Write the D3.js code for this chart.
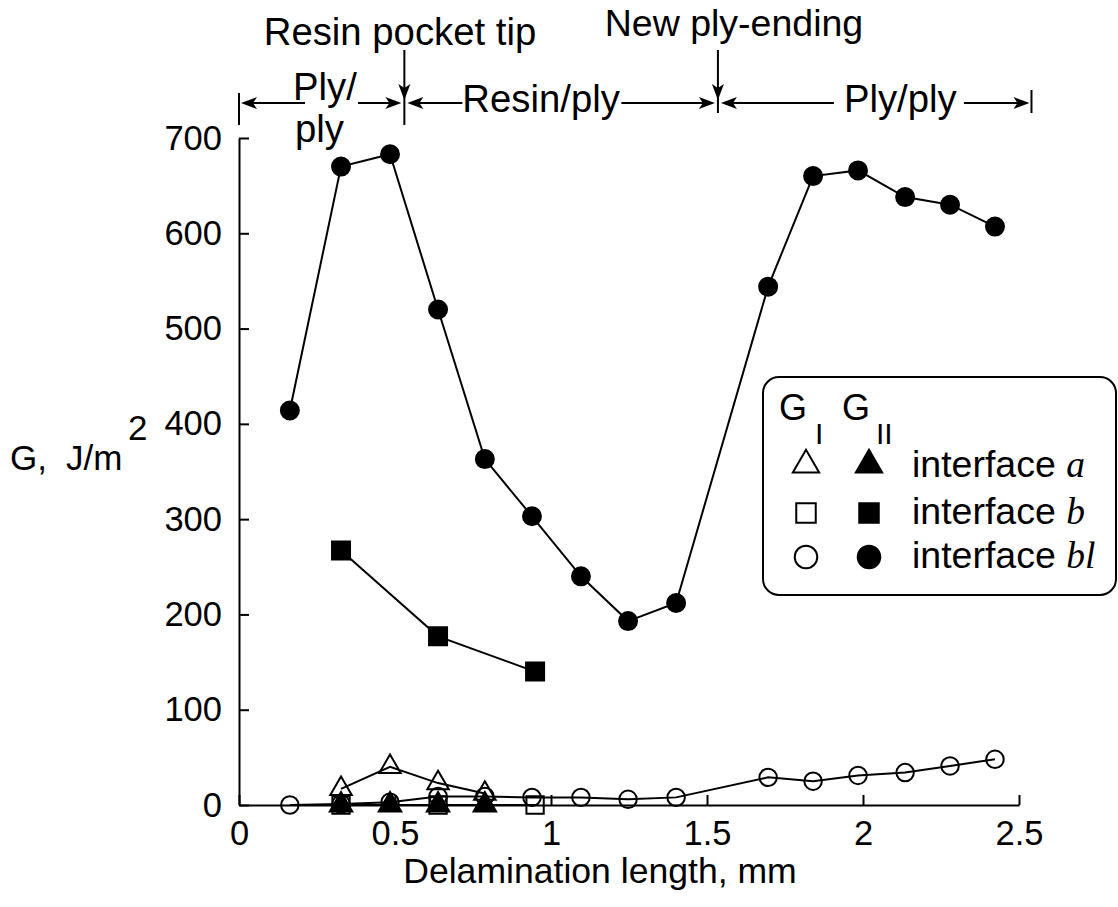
<!DOCTYPE html>
<html><head><meta charset="utf-8">
<script src="https://cdn.jsdelivr.net/npm/d3@7"></script>
<style>
body{margin:0;background:#fff}
svg{display:block}
text{font-family:"Liberation Sans",Arial,Helvetica,sans-serif;fill:#000}
</style>
</head><body>
<svg id="c" width="1118" height="907"></svg>
<script>
// ---- data ----
const xTicks = [0, 0.5, 1, 1.5, 2, 2.5];
const xTickLabels = ["0", "0.5", "1", "1.5", "2", "2.5"];
const yTicks = [0, 100, 200, 300, 400, 500, 600, 700];

const blX   = [0.163, 0.327, 0.484, 0.638, 0.788, 0.939, 1.096, 1.247, 1.401, 1.696, 1.840, 1.984, 2.135, 2.279, 2.423];
const blGII = [414, 670, 683, 520, 363, 303, 240, 193, 212, 544, 660, 666, 638, 630, 607];
const blGI  = [0, 1, 3, 9, 9, 8, 8, 6, 8, 29, 25, 31, 34, 41, 48];

const aX   = [0.327, 0.484, 0.638, 0.788];
const aGI  = [17, 40, 23, 12];
const aGII = [0, 0, 0, 0];

const bX   = [0.327, 0.638, 0.949];
const bGI  = [0, 0, 0];
const bGII = [267, 177, 140];

const pocketTipX = 0.53;
const newPlyX = 1.535;
const regionEndX = 2.54;

// ---- chart ----
const svg = d3.select("#c");
const x = d3.scaleLinear().domain([0, 2.5]).range([239, 1019]);
const y = d3.scaleLinear().domain([0, 700]).range([805, 138]);

const FONT = '"Liberation Sans",Arial,Helvetica,sans-serif';

// axes
const gy = svg.append("g").attr("transform", `translate(${x(0)},0)`)
  .call(d3.axisLeft(y).tickValues(yTicks).tickSizeInner(-10).tickSizeOuter(0).tickPadding(17));
const gx = svg.append("g").attr("transform", `translate(0,${y(0)})`)
  .call(d3.axisBottom(x).tickValues(xTicks).tickFormat((d, i) => xTickLabels[i]).tickSizeInner(-10).tickSizeOuter(0).tickPadding(16));
[gx, gy].forEach(g => {
  g.attr("font-family", FONT).attr("font-size", 34.5);
  g.selectAll("path.domain").attr("stroke", "#000").attr("stroke-width", 2);
  g.selectAll(".tick line").attr("stroke", "#000").attr("stroke-width", 2);
  g.selectAll(".tick text").attr("fill", "#000");
});

// axis titles
svg.append("text").attr("x", 600).attr("y", 883).attr("text-anchor", "middle")
  .attr("font-size", 35.6).text("Delamination length, mm");
svg.append("text").attr("x", 10).attr("y", 470).attr("font-size", 35).text("G,");
svg.append("text").attr("x", 66).attr("y", 470).attr("font-size", 35).text("J/m");
svg.append("text").attr("x", 128).attr("y", 440).attr("font-size", 35).text("2");

// series lines
const line = d3.line().x(d => x(d[0])).y(d => y(d[1]));
function zip(xs, ys) { return xs.map((v, i) => [v, ys[i]]); }
const seriesList = [
  {xs: blX, ys: blGI,  sym: d3.symbolCircle,   size: 240, fill: false},
  {xs: bX,  ys: bGI,   sym: d3.symbolSquare,   size: 300, fill: false},
  {xs: aX,  ys: aGI,   sym: d3.symbolTriangle, size: 200, fill: false},
  {xs: aX,  ys: aGII,  sym: d3.symbolTriangle, size: 220, fill: true},
  {xs: bX,  ys: bGII,  sym: d3.symbolSquare,   size: 324, fill: true},
  {xs: blX, ys: blGII, sym: d3.symbolCircle,   size: 254, fill: true},
];
seriesList.forEach(s => {
  svg.append("path").datum(zip(s.xs, s.ys)).attr("d", line)
    .attr("fill", "none").attr("stroke", "#000").attr("stroke-width", 2);
});
seriesList.forEach(s => {
  svg.append("g").selectAll("path").data(zip(s.xs, s.ys)).join("path")
    .attr("transform", d => `translate(${x(d[0])},${y(d[1])})`)
    .attr("d", d3.symbol().type(s.sym).size(s.size))
    .attr("fill", s.fill ? "#000" : "none")
    .attr("stroke", "#000").attr("stroke-width", 2);
});

// ---- top annotations ----
const ann = svg.append("g");
function arrow(x1, y1, x2, y2) {
  const ang = Math.atan2(y2 - y1, x2 - x1);
  const L = 16, W = 6, N = 4;
  ann.append("line").attr("x1", x1).attr("y1", y1).attr("x2", x2 - Math.cos(ang) * 6).attr("y2", y2 - Math.sin(ang) * 6)
    .attr("stroke", "#000").attr("stroke-width", 2);
  const c = Math.cos(ang), s = Math.sin(ang);
  const pts = [
    [x2, y2],
    [x2 - L * c + W * s, y2 - L * s - W * c],
    [x2 - (L - N) * c, y2 - (L - N) * s],
    [x2 - L * c - W * s, y2 - L * s + W * c]
  ];
  ann.append("path").attr("d", "M" + pts.map(p => p.join(",")).join("L") + "Z").attr("fill", "#000");
}
function vbar(xp, y1, y2) {
  ann.append("line").attr("x1", xp).attr("x2", xp).attr("y1", y1).attr("y2", y2)
    .attr("stroke", "#000").attr("stroke-width", 2);
}
function label(t, xp, yp, anchor, fs) {
  ann.append("text").attr("x", xp).attr("y", yp).attr("font-size", fs || 38.3)
    .attr("text-anchor", anchor || "start").text(t);
}
const yA = 103;
const x0 = x(0), xT = x(pocketTipX), xN = x(newPlyX), xE = x(regionEndX);
vbar(x0, 93, 125);
arrow(x0 + 66, yA, x0 + 2, yA);
label("Ply/", x0 + 54, 100);
label("ply", x0 + 56, 142);
arrow(x0 + 119, yA, xT - 3, yA);
vbar(xT, 88, 125);
arrow(xT, 50, xT, yA - 3);
label("Resin pocket tip", 400, 45, "middle");
arrow(xT + 58, yA, xT + 3, yA);
label("Resin/ply", xT + 58, 112);
arrow(xT + 217, yA, xN - 3, yA);
vbar(xN, 90, 113);
arrow(xN, 50, xN, yA - 3);
label("New ply-ending", 734, 36, "middle", 37.5);
arrow(xN + 116, yA, xN + 3, yA);
label("Ply/ply", xN + 126, 112);
arrow(xN + 246, yA, xE - 2, yA);
vbar(xE, 90, 113);

// ---- legend ----
const lg = svg.append("g");
lg.append("rect").attr("x", 763).attr("y", 377).attr("width", 353).attr("height", 218)
  .attr("rx", 16).attr("fill", "#fff").attr("stroke", "#000").attr("stroke-width", 2);
lg.append("text").attr("x", 779).attr("y", 420).attr("font-size", 36).text("G");
lg.append("text").attr("x", 815).attr("y", 444).attr("font-size", 30).text("I");
lg.append("text").attr("x", 842).attr("y", 420).attr("font-size", 36).text("G");
lg.append("text").attr("x", 876).attr("y", 444).attr("font-size", 30).text("II");
const legRows = [
  {sym: d3.symbolTriangle, size: 300, name: "a",  cy: 465, ty: 477},
  {sym: d3.symbolSquare,   size: 380, name: "b",  cy: 513, ty: 524},
  {sym: d3.symbolCircle,   size: 400, name: "bl", cy: 557, ty: 568},
];
legRows.forEach(r => {
  lg.append("path").attr("transform", `translate(806,${r.cy})`)
    .attr("d", d3.symbol().type(r.sym).size(r.size)).attr("fill", "none").attr("stroke", "#000").attr("stroke-width", 2);
  lg.append("path").attr("transform", `translate(869,${r.cy})`)
    .attr("d", d3.symbol().type(r.sym).size(r.size)).attr("fill", "#000").attr("stroke", "#000").attr("stroke-width", 2);
  const t = lg.append("text").attr("x", 912).attr("y", r.ty).attr("font-size", 37.5);
  t.append("tspan").text("interface ");
  t.append("tspan").attr("font-family", '"Liberation Serif","Times New Roman",serif').attr("font-style", "italic").text(r.name);
});
</script>
</body></html>
